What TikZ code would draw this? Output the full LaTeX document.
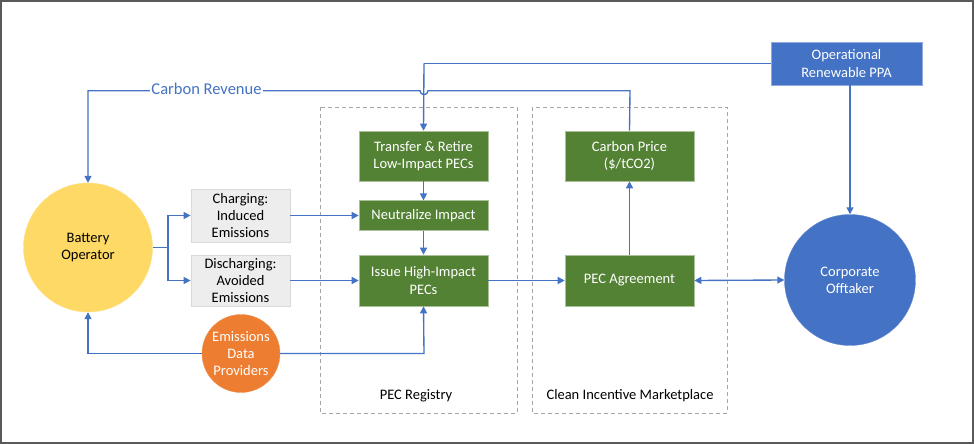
\documentclass[tikz,border=0pt]{standalone}
\usepackage{fontspec}
\setmainfont{Carlito}
\usetikzlibrary{arrows.meta}
\definecolor{lblue}{HTML}{4472C4}
\definecolor{pgreen}{HTML}{548235}
\definecolor{pyellow}{HTML}{FFD966}
\definecolor{porange}{HTML}{ED7D31}
\definecolor{pgray}{HTML}{EDEDED}
\definecolor{pgrayb}{HTML}{D9D9D9}
\definecolor{dashgray}{HTML}{A6A6A6}
\tikzset{
  conn/.style={draw=lblue, line width=1.35pt, -{Triangle[length=7pt,width=7pt]}},
  plain/.style={draw=lblue, line width=1.35pt},
  gbox/.style={rectangle, fill=pgreen, draw=pgreen!50!white, line width=0.6pt, text=white, align=center, font=\fontsize{14.5}{17.3}\selectfont, inner sep=0pt, minimum width=129pt},
  ebox/.style={rectangle, fill=pgray, draw=pgrayb, line width=0.8pt, text=black, align=center, font=\fontsize{14.5}{17.3}\selectfont, inner sep=0pt, minimum width=99pt},
  circ/.style={circle, inner sep=0pt, align=center, font=\fontsize{14.5}{17.3}\selectfont},
  region/.style={draw=dashgray, dashed, line width=0.8pt, dash pattern=on 4pt off 3pt},
  rlabel/.style={font=\fontsize{14.5}{17.3}\selectfont, text=black},
}
\begin{document}
\begin{tikzpicture}[x=1pt,y=-1pt]
\useasboundingbox (0,0) rectangle (975,444);
\draw[draw=black!65, line width=1.6pt] (1,1) rectangle (973,443);

% regions
\draw[region] (320,107) rectangle (517,413);
\draw[region] (532,107) rectangle (727,413);
\node[rlabel] (reglab) at (416,396) {PEC Registry};
\node[rlabel] (mktlab) at (630,396) {Clean Incentive Marketplace};

% nodes
\node[circ, fill=pyellow, draw=pyellow!80!white, minimum size=129pt] (bat) at (88,247.5) {Battery\\Operator};
\node[circ, fill=lblue, draw=lblue!80!white, text=white, minimum size=131pt] (cor) at (850,280) {Corporate\\Offtaker};
\node[circ, fill=porange, draw=porange!80!white, text=white, minimum size=78pt] (edp) at (241,353.5) {Emissions\\Data\\Providers};
\node[rectangle, fill=lblue, draw=lblue!60!white, line width=0.6pt, text=white, align=center, font=\fontsize{14.5}{17.3}\selectfont, inner sep=0pt, minimum width=151pt, minimum height=43pt] (ppa) at (846.5,63.5) {Operational\\Renewable PPA};

\node[gbox, minimum height=50pt] (tr) at (423.5,156) {Transfer \& Retire\\Low-Impact PECs};
\node[gbox, minimum height=30pt] (neu) at (423.5,215.7) {Neutralize Impact};
\node[gbox, minimum height=51pt] (iss) at (423.5,280.5) {Issue High-Impact\\PECs};
\node[gbox, minimum height=50pt] (cp) at (629.5,156) {Carbon Price\\(\$/tCO2)};
\node[gbox, minimum height=51pt] (pa) at (629.5,280.5) {PEC Agreement};

\node[ebox, minimum height=53pt] (chg) at (240.5,215.5) {Charging:\\Induced\\Emissions};
\node[ebox, minimum height=51pt] (dis) at (240.5,280.5) {Discharging:\\Avoided\\Emissions};

% coordinates
\coordinate (br) at (168,247.5);
\coordinate (crL) at (88,90.7);
\coordinate (crR) at (630,90.7);
\coordinate (ppaL) at (424,63.5);
\coordinate (edpL) at (88,353.5);
\coordinate (edpR) at (424,353.5);

% battery to emissions boxes
\draw[plain] (bat.east) -- (br);
\draw[conn] (br) |- (chg.west);
\draw[conn] (br) |- (dis.west);
\draw[conn] (chg.east) -- (chg.east -| neu.west);
\draw[conn] (dis.east) -- (iss.west);

% registry chain
\draw[conn] (tr) -- (neu);
\draw[conn] (neu) -- (iss);
\draw[conn] (iss.east) -- (pa.west);
\draw[conn] (pa) -- (cp);
\draw[{Triangle[length=7pt,width=7pt]}-{Triangle[length=7pt,width=7pt]}, draw=lblue, line width=1.35pt] (pa.east) -- (cor.west);

% PPA
\draw[plain] (ppa.west) -- (ppaL);
\draw[conn] (ppaL) -- (tr.north);
\draw[conn] (cor.north |- ppa.south) -- (cor.north);

% carbon revenue line with hop
\draw[conn] (cp.north) -- (crR) -- (428,90.7) arc[start angle=0, end angle=180, radius=4] -- (crL) -- (bat.north);
\node[fill=white, inner sep=1pt, text=lblue, font=\fontsize{16.5}{19}\selectfont] (crlab) at (206.5,89) {Carbon Revenue};

% emissions data providers
\draw[conn] (edp.west) -- (edpL) -- (bat.south);
\draw[conn] (edp.east) -- (edpR) -- (iss.south);
\end{tikzpicture}
\end{document}
